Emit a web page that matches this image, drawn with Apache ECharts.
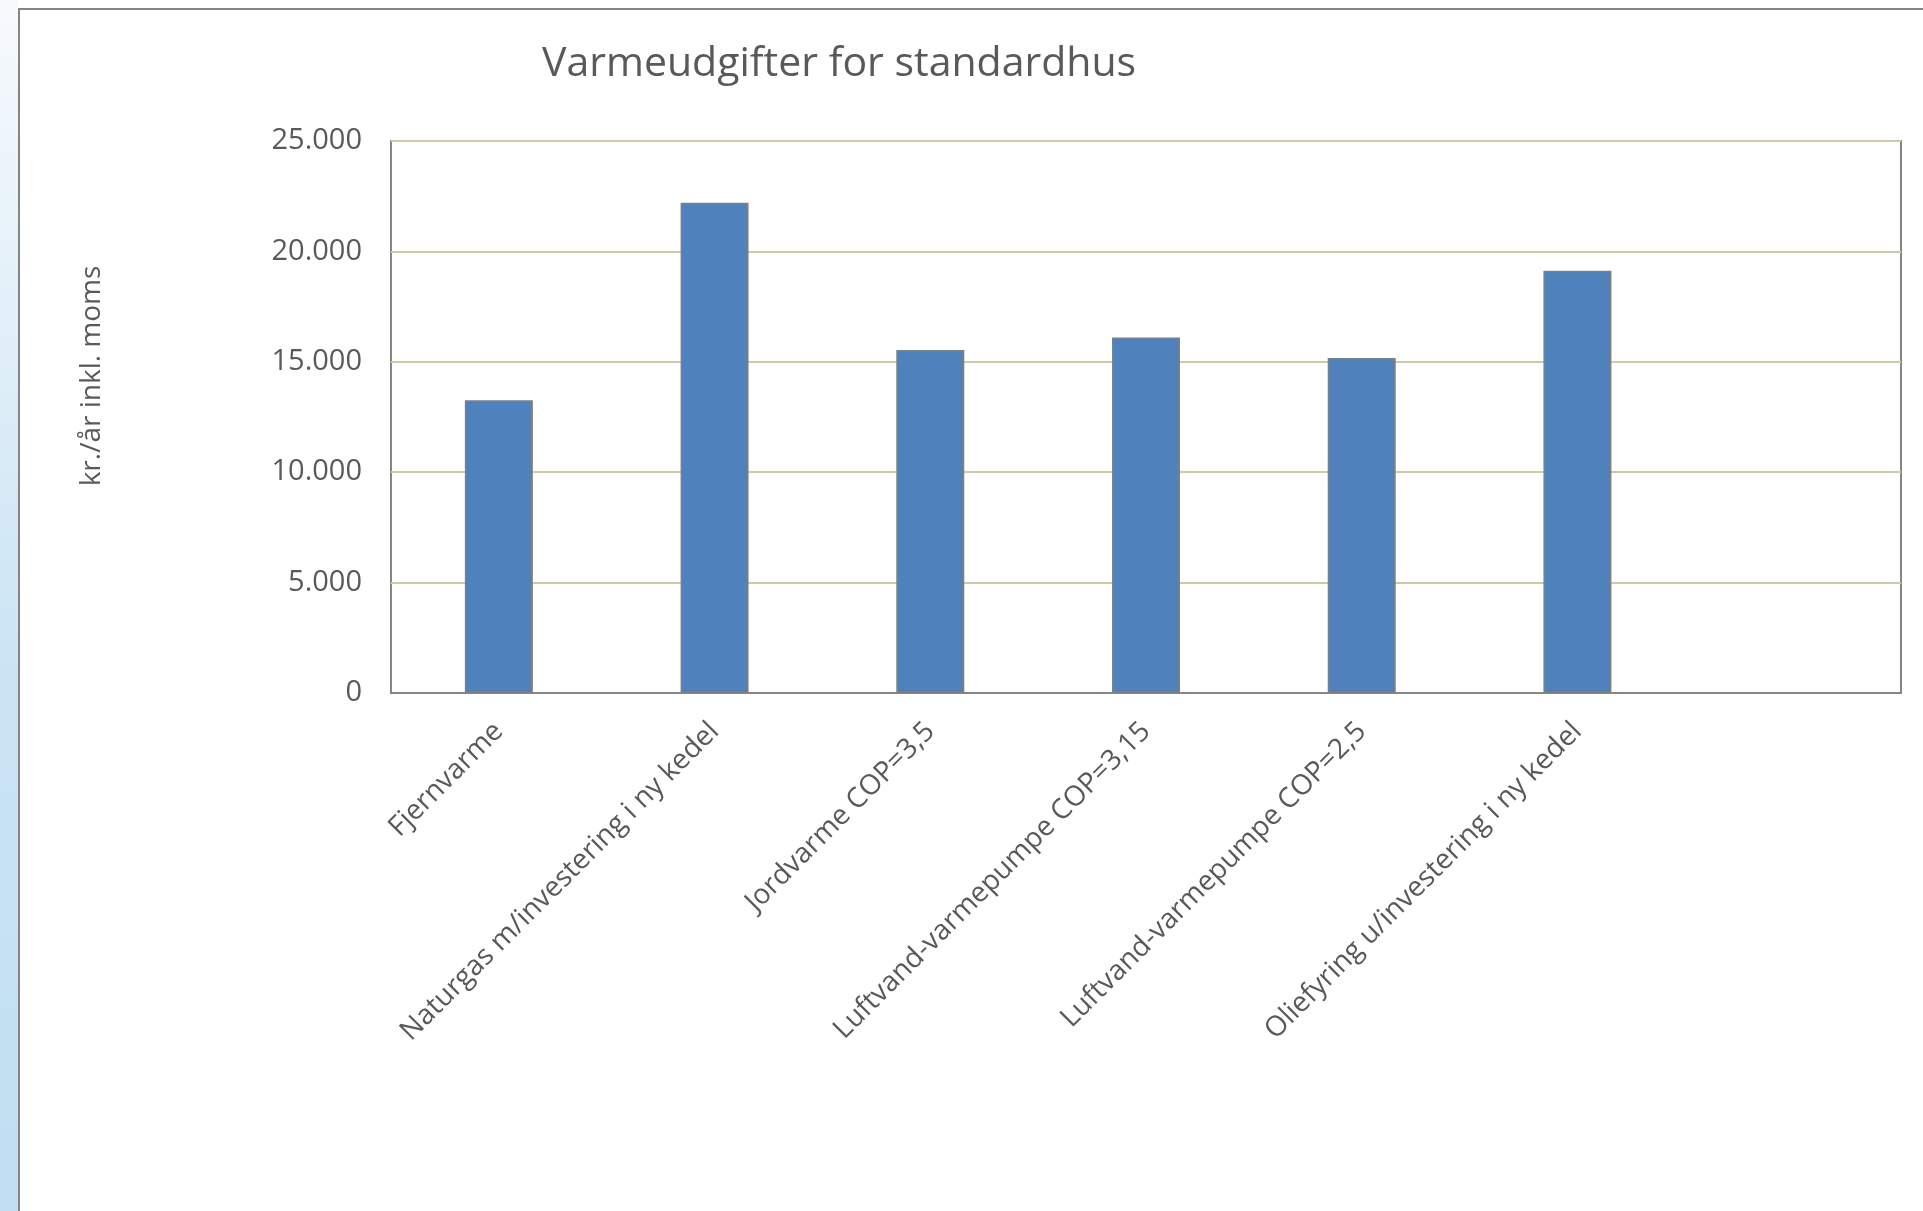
<!DOCTYPE html>
<html>
<head>
<meta charset="UTF-8">
<script src="https://cdn.jsdelivr.net/npm/echarts@6/dist/echarts.min.js"></script>
<title>Varmeudgifter for standardhus</title>
<style>
  html, body { margin: 0; padding: 0; background: #fff; }
  #chart { width: 1923px; height: 1211px; }
</style>
</head>
<body>
<div id="chart"></div>
<script type="text/javascript">
    // kategorier og værdier (kr./år inkl. moms)
    var categories = [
        'Fjernvarme',
        'Naturgas m/investering i ny kedel',
        'Jordvarme COP=3,5',
        'Luftvand-varmepumpe COP=3,15',
        'Luftvand-varmepumpe COP=2,5',
        'Oliefyring u/investering i ny kedel',
        ''
    ];
    var values = [13260, 22200, 15530, 16100, 15170, 19120, null];

    var yMin = 0, yMax = 25000, yStep = 5000;

    var textColor = '#595959';
    var fontName = 'Open Sans';

    // 25000 -> "25.000"
    function dkNumber(v) {
        return String(v).replace(/\B(?=(\d{3})+(?!\d))/g, '.');
    }

    var myChart = echarts.init(document.getElementById('chart'));

    myChart.setOption({
        animation: false,
        backgroundColor: '#ffffff',
        title: {
            text: 'Varmeudgifter for standardhus',
            left: 537,
            top: 39,
            textStyle: {
                fontFamily: fontName,
                fontSize: 41,
                fontWeight: 'normal',
                color: textColor
            }
        },
        graphic: [
            {
                // lyseblå stribe i venstre side
                type: 'rect',
                z: -10,
                shape: { x: 0, y: 0, width: 18, height: 1211 },
                style: {
                    fill: new echarts.graphic.LinearGradient(0, 0, 0, 1, [
                        { offset: 0, color: '#f7fafd' },
                        { offset: 0.55, color: '#cbe4f4' },
                        { offset: 1, color: '#c0dff2' }
                    ])
                }
            },
            {
                type: 'polyline',
                z: -5,
                shape: { points: [[19, 1211], [19, 9], [1923, 9]] },
                style: { stroke: '#858585', lineWidth: 2, fill: null }
            },
            {
                type: 'text',
                x: 92,
                y: 376,
                rotation: Math.PI / 2,
                style: {
                    text: 'kr./år inkl. moms',
                    fontFamily: fontName,
                    fontSize: 28,
                    fill: textColor,
                    align: 'center',
                    verticalAlign: 'middle'
                }
            }
        ],
        grid: {
            left: 391,
            top: 141,
            width: 1510,
            height: 552,
            show: true,
            borderColor: '#868686',
            borderWidth: 2,
            backgroundColor: 'transparent'
        },
        xAxis: {
            type: 'category',
            data: categories,
            axisLine: { show: true, lineStyle: { color: '#868686', width: 2 } },
            axisTick: { show: false },
            axisLabel: {
                rotate: 45,
                interval: 0,
                margin: 34,
                fontFamily: fontName,
                fontSize: 28,
                color: textColor
            }
        },
        yAxis: {
            type: 'value',
            min: yMin,
            max: yMax,
            interval: yStep,
            axisLine: { show: false },
            axisTick: { show: false },
            splitLine: { show: true, lineStyle: { color: '#d0c9a6', width: 2 } },
            axisLabel: {
                margin: 29,
                fontFamily: fontName,
                fontSize: 29,
                color: textColor,
                formatter: dkNumber
            }
        },
        series: [
            {
                name: 'Varmeudgifter',
                type: 'bar',
                barWidth: 68,
                data: values,
                itemStyle: {
                    color: '#4f81bd',
                    borderColor: '#7f7f7f',
                    borderWidth: 1.5
                }
            }
        ]
    });
</script>
</body>
</html>
